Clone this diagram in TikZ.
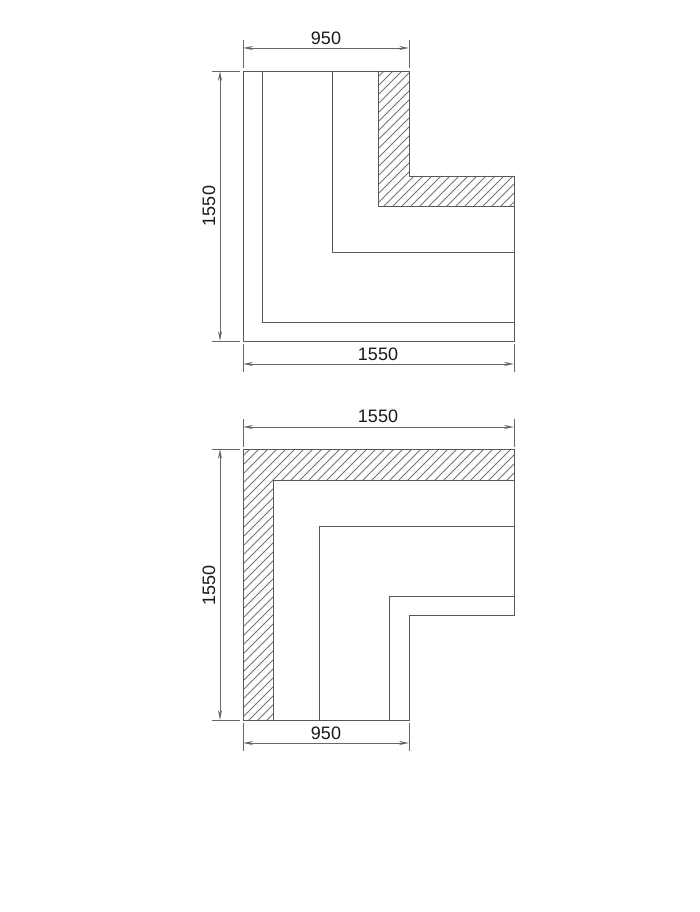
\documentclass[tikz,border=0pt]{standalone}
\usepackage{fontspec}
\setmainfont{Liberation Sans}
\usetikzlibrary{arrows.meta}
\tikzset{
  wall/.style={draw=black!65,line width=0.9pt,line join=miter},
  hatchline/.style={draw=black!55,line width=0.8pt},
  dimline/.style={draw=black!60,line width=0.9pt,{Stealth[open,length=10pt,width=4pt]}-{Stealth[open,length=10pt,width=4pt]}},
  extline/.style={draw=black!60,line width=0.9pt},
  dimlabel/.style={inner sep=0pt,text=black!90,font=\fontsize{18}{20}\selectfont}
}
\begin{document}
\begin{tikzpicture}[x=1pt,y=-1pt]
\useasboundingbox (0,0) rectangle (700,912);
% upper corner
\begin{scope}
\clip (378,71) -- (409,71) -- (409,176) -- (514,176) -- (514,206) -- (378,206) -- cycle;
\foreach \i in {0,9,...,306}
  \draw [hatchline] (370+\i,220) -- (370+\i+160,60);
\foreach \i in {9,18,...,162}
  \draw [hatchline] (370-\i,220) -- (370-\i+160,60);
\end{scope}
\draw [wall] (243,71) -- (409,71) -- (409,176) -- (514,176) -- (514,341) -- (243,341) -- cycle;
\draw [wall] (262,71) -- (262,322) -- (514,322);
\draw [wall] (332,71) -- (332,252) -- (514,252);
\draw [wall] (378,71) -- (378,206) -- (514,206);
% upper dimensions
\coordinate (ua) at (243,48);
\coordinate (ub) at (409,48);
\coordinate (uc) at (220,71);
\coordinate (ud) at (220,341);
\coordinate (ue) at (243,364);
\coordinate (uf) at (514,364);
\draw [dimline] (ua) -- (ub);
\draw [dimline] (uc) -- (ud);
\draw [dimline] (ue) -- (uf);
\draw [extline] (243,40) -- (243,68);
\draw [extline] (409,40) -- (409,68);
\draw [extline] (212,71) -- (240,71);
\draw [extline] (212,341) -- (240,341);
\draw [extline] (243,344) -- (243,372);
\draw [extline] (514,344) -- (514,372);
\node [dimlabel] (utop) at (326,38) {950};
\node [dimlabel,rotate=90] (uleft) at (209,206) {1550};
\node [dimlabel] (ubot) at (378,354) {1550};
% lower corner
\begin{scope}
\clip (243,449) -- (514,449) -- (514,480) -- (273,480) -- (273,720) -- (243,720) -- cycle;
\foreach \i in {0,9,...,558}
  \draw [hatchline] (230+\i,730) -- (230+\i+300,430);
\foreach \i in {9,18,...,333}
  \draw [hatchline] (230-\i,730) -- (230-\i+300,430);
\end{scope}
\draw [wall] (243,449) -- (514,449) -- (514,615) -- (409,615) -- (409,720) -- (243,720) -- cycle;
\draw [wall] (273,720) -- (273,480) -- (514,480);
\draw [wall] (319,720) -- (319,526) -- (514,526);
\draw [wall] (389,720) -- (389,596) -- (514,596);
% lower dimensions
\coordinate (la) at (243,427);
\coordinate (lb) at (514,427);
\coordinate (lc) at (220,449);
\coordinate (ld) at (220,720);
\coordinate (le) at (243,743);
\coordinate (lf) at (409,743);
\draw [dimline] (la) -- (lb);
\draw [dimline] (lc) -- (ld);
\draw [dimline] (le) -- (lf);
\draw [extline] (243,419) -- (243,447);
\draw [extline] (514,419) -- (514,447);
\draw [extline] (212,449) -- (240,449);
\draw [extline] (212,720) -- (240,720);
\draw [extline] (243,723) -- (243,751);
\draw [extline] (409,723) -- (409,751);
\node [dimlabel] (ltop) at (378,416) {1550};
\node [dimlabel,rotate=90] (lleft) at (209,585) {1550};
\node [dimlabel] (lbot) at (326,733) {950};
\end{tikzpicture}
\end{document}
